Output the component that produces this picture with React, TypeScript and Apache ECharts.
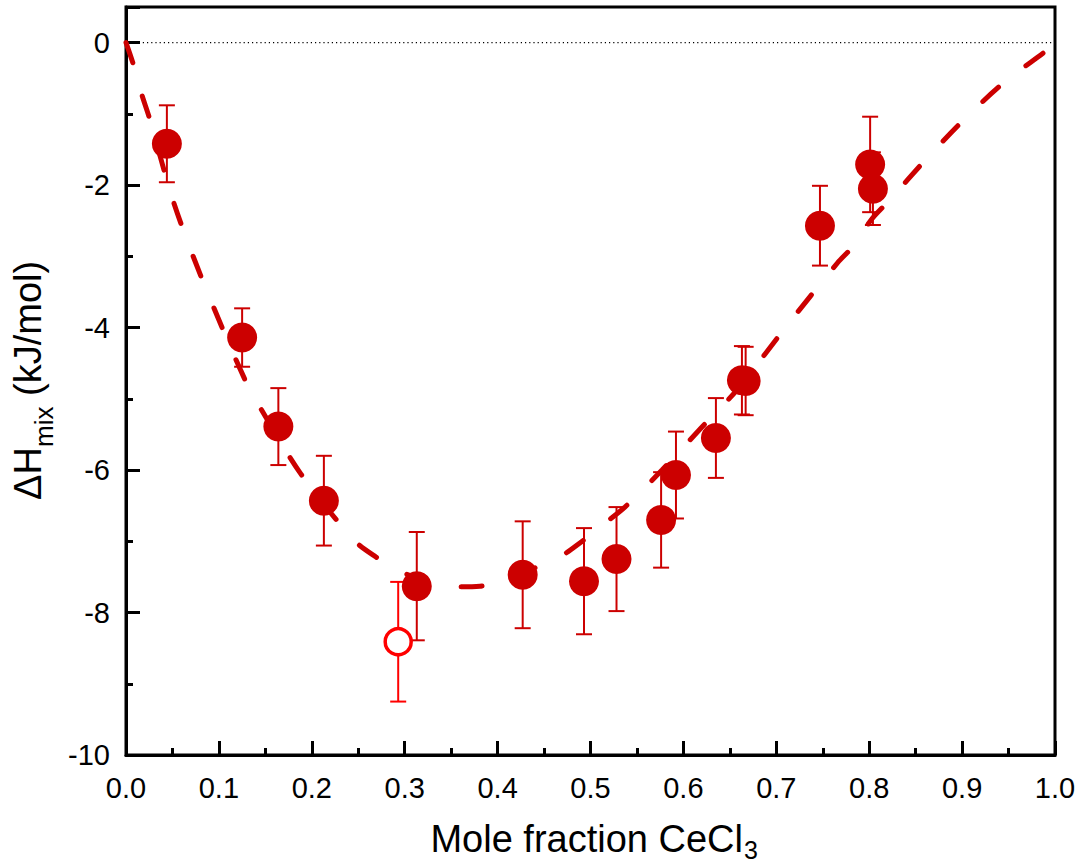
import React, { useEffect, useRef } from "react";
import * as echarts from "echarts";

// Measured mixing enthalpies (filled symbols)
const fracFilled = [0.044, 0.125, 0.164, 0.213, 0.313, 0.427, 0.493, 0.528, 0.576, 0.592, 0.635, 0.663, 0.667, 0.747, 0.801, 0.804];
const dhFilled = [-1.42, -4.14, -5.39, -6.43, -7.63, -7.47, -7.56, -7.25, -6.70, -6.07, -5.55, -4.74, -4.75, -2.57, -1.71, -2.05];
const errFilled = [0.54, 0.41, 0.54, 0.63, 0.76, 0.75, 0.745, 0.73, 0.67, 0.61, 0.56, 0.48, 0.48, 0.56, 0.67, 0.51];

// Separate measurement (open symbol)
const fracOpen = [0.293];
const dhOpen = [-8.41];
const errOpen = [0.84];

// Fitted curve
const fitFrac = [0, 0.008, 0.017, 0.025, 0.051, 0.081, 0.128, 0.152, 0.188, 0.245, 0.269, 0.296, 0.352, 0.381, 0.466, 0.49, 0.514, 0.537, 0.577, 0.619, 0.658, 0.708, 0.766, 0.784, 0.802, 0.822, 0.861, 0.902, 0.946, 0.994, 1.0];
const fitDh = [0, -0.31, -0.73, -1.05, -2.23, -3.29, -4.73, -5.29, -6.05, -6.98, -7.22, -7.43, -7.64, -7.63, -7.22, -7.01, -6.76, -6.52, -6.0, -5.41, -4.87, -4.03, -3.09, -2.84, -2.49, -2.21, -1.64, -1.08, -0.55, -0.08, 0];

const xTicks = [0, 0.1, 0.2, 0.3, 0.4, 0.5, 0.6, 0.7, 0.8, 0.9, 1.0];
const yTicks = [0, -2, -4, -6, -8, -10];

const DARK_RED = "#cc0000";
const RED = "#ff0000";
const FONT = "Liberation Sans, Arial, sans-serif";
const TITLE_SIZE = 38;
const SUB_SIZE = 26;

function errorBarSeries(xs: number[], ys: number[], es: number[], color: string) {
  return {
    type: "custom",
    z: 3,
    data: xs.map((x, i) => [x, ys[i] - es[i], ys[i] + es[i]]),
    encode: { x: 0, y: [1, 2] },
    renderItem: (_params: any, api: any) => {
      const x = api.value(0);
      const lo = api.coord([x, api.value(1)]);
      const hi = api.coord([x, api.value(2)]);
      const half = 8;
      const style = { stroke: color, lineWidth: 2 };
      return {
        type: "group",
        children: [
          { type: "line", shape: { x1: lo[0], y1: lo[1], x2: hi[0], y2: hi[1] }, style },
          { type: "line", shape: { x1: lo[0] - half, y1: lo[1], x2: lo[0] + half, y2: lo[1] }, style },
          { type: "line", shape: { x1: hi[0] - half, y1: hi[1], x2: hi[0] + half, y2: hi[1] }, style },
        ],
      };
    },
  };
}

function titleText(text: string, x: number, y: number, size: number, align: string, rotation = 0) {
  return {
    type: "text",
    x,
    y,
    rotation,
    silent: true,
    style: {
      text,
      fill: "#000",
      font: `${size}px ${FONT}`,
      align,
      verticalAlign: "middle",
    },
  };
}

export default function App() {
  const ref = useRef<HTMLDivElement>(null);

  useEffect(() => {
    if (!ref.current) return;
    const chart = echarts.init(ref.current, null, { renderer: "svg" });
    chart.setOption({
      animation: false,
      backgroundColor: "#ffffff",
      textStyle: { fontFamily: FONT },
      grid: {
        left: 126,
        right: 27,
        top: 7,
        bottom: 111,
        containLabel: false,
        outerBoundsMode: "none",
        show: true,
        borderColor: "#000",
        borderWidth: 3,
        backgroundColor: "transparent",
      },
      graphic: [
        // x-axis title: "Mole fraction CeCl" + subscript 3
        titleText("Mole fraction CeCl", 743, 839, TITLE_SIZE, "right"),
        titleText("3", 744, 850, SUB_SIZE - 1, "left"),
        // y-axis title (rotated): "ΔH" + subscript "mix" + " (kJ/mol)"
        titleText("ΔH", 28, 500, TITLE_SIZE, "left", Math.PI / 2),
        titleText("mix", 44, 447, SUB_SIZE, "left", Math.PI / 2),
        titleText(" (kJ/mol)", 28, 406.5, TITLE_SIZE, "left", Math.PI / 2),
      ],
      xAxis: {
        type: "value",
        min: 0,
        max: 1,
        interval: 0.1,
        axisLine: { show: true, onZero: false, lineStyle: { color: "#000", width: 3 } },
        axisTick: { show: true, inside: true, length: 14, lineStyle: { color: "#000", width: 3 } },
        minorTick: { show: true, splitNumber: 2, length: 7, lineStyle: { color: "#000", width: 3 } },
        splitLine: { show: false },
        axisLabel: {
          fontSize: 29,
          color: "#000",
          fontFamily: FONT,
          margin: 18,
          formatter: (v: number) => (xTicks.some((t) => Math.abs(t - v) < 1e-6) ? v.toFixed(1) : ""),
        },
      },
      yAxis: {
        type: "value",
        min: -10,
        max: 0.5,
        interval: 2,
        axisLine: { show: true, onZero: false, lineStyle: { color: "#000", width: 3 } },
        axisTick: { show: true, inside: true, length: 14, lineStyle: { color: "#000", width: 3 } },
        minorTick: { show: true, splitNumber: 2, length: 7, lineStyle: { color: "#000", width: 3 } },
        splitLine: { show: false },
        axisLabel: {
          fontSize: 29,
          color: "#000",
          fontFamily: FONT,
          margin: 16,
          formatter: (v: number) => (yTicks.some((t) => Math.abs(t - v) < 1e-6) ? String(v) : ""),
        },
      },
      series: [
        {
          type: "line",
          z: 1,
          data: [
            [0, 0],
            [1, 0],
          ],
          showSymbol: false,
          silent: true,
          lineStyle: { color: "#000", width: 1.2, type: [1.2, 3] },
        },
        {
          type: "line",
          z: 2,
          data: fitFrac.map((x, i) => [x, fitDh[i]]),
          smooth: 0.3,
          showSymbol: false,
          silent: true,
          lineStyle: { color: DARK_RED, width: 5, type: [21, 35], cap: "round" },
        },
        errorBarSeries(fracFilled, dhFilled, errFilled, DARK_RED),
        errorBarSeries(fracOpen, dhOpen, errOpen, RED),
        {
          type: "scatter",
          z: 4,
          data: fracFilled.map((x, i) => [x, dhFilled[i]]),
          symbol: "circle",
          symbolSize: 30,
          itemStyle: { color: DARK_RED, opacity: 1 },
        },
        {
          type: "scatter",
          z: 4,
          data: fracOpen.map((x, i) => [x, dhOpen[i]]),
          symbol: "circle",
          symbolSize: 26,
          itemStyle: { color: "#ffffff", borderColor: RED, borderWidth: 3.5, opacity: 1 },
        },
      ],
    });
    return () => chart.dispose();
  }, []);

  return (
    <div
      ref={ref}
      style={{ position: "fixed", left: 0, top: 0, width: 1082, height: 866, background: "#fff" }}
    />
  );
}
